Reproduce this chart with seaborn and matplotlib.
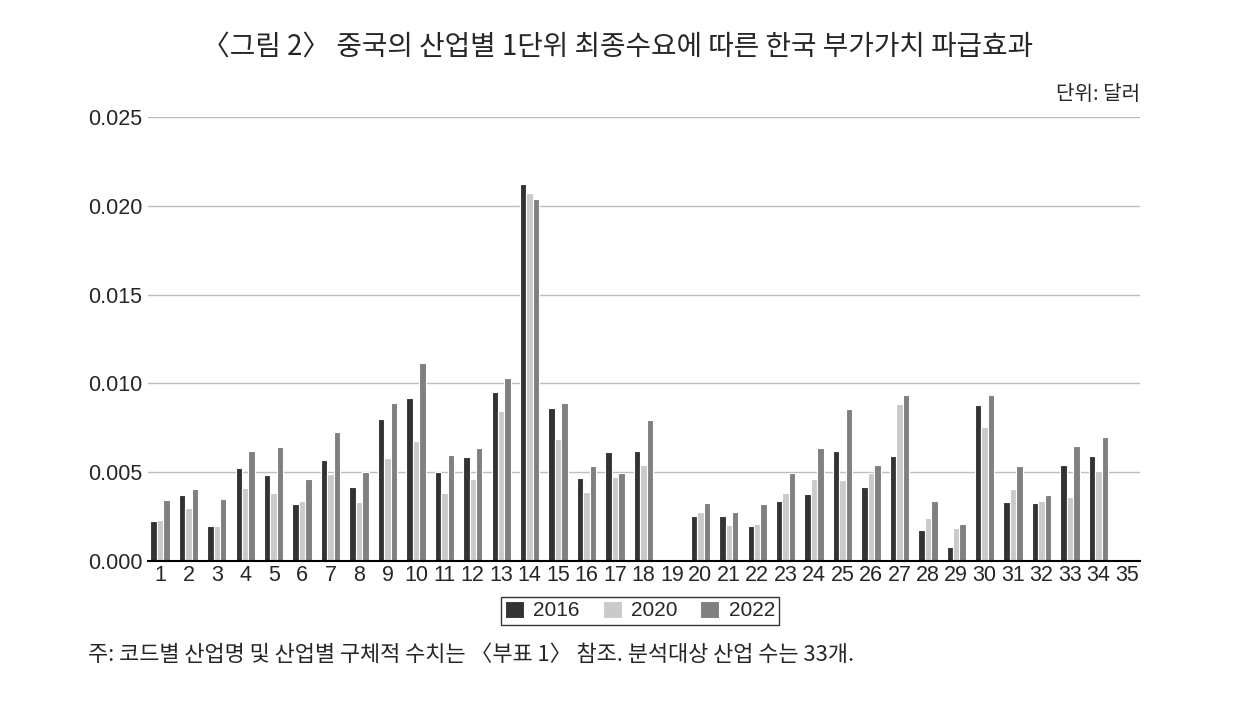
import matplotlib
matplotlib.use("Agg")
import matplotlib.pyplot as plt
import seaborn as sns
import numpy as np
import pandas as pd

categories = [str(i) for i in range(1, 36)]
years = ["2016", "2020", "2022"]
v2016 = [0.00228, 0.00370, 0.00196, 0.00525, 0.00485, 0.00321, 0.00568, 0.00417, 0.00802, 0.00915,
         0.00502, 0.00585, 0.00953, 0.02124, 0.00861, 0.00470, 0.00611, 0.00617, np.nan, 0.00253,
         0.00255, 0.00196, 0.00336, 0.00375, 0.00619, 0.00417, 0.00592, 0.00174, 0.00077, 0.00879,
         0.00334, 0.00328, 0.00542, 0.00592, np.nan]
v2020 = [0.00230, 0.00298, 0.00196, 0.00413, 0.00385, 0.00338, 0.00492, 0.00334, 0.00579, 0.00677,
         0.00385, 0.00462, 0.00846, 0.02070, 0.00686, 0.00389, 0.00474, 0.00541, np.nan, 0.00277,
         0.00202, 0.00208, 0.00381, 0.00462, 0.00457, 0.00498, 0.00885, 0.00242, 0.00185, 0.00753,
         0.00408, 0.00338, 0.00362, 0.00508, np.nan]
v2022 = [0.00343, 0.00406, 0.00347, 0.00619, 0.00643, 0.00462, 0.00725, 0.00502, 0.00887, 0.01115,
         0.00596, 0.00638, 0.01030, 0.02038, 0.00891, 0.00536, 0.00494, 0.00793, np.nan, 0.00326,
         0.00275, 0.00319, 0.00498, 0.00638, 0.00858, 0.00542, 0.00934, 0.00336, 0.00211, 0.00932,
         0.00534, 0.00370, 0.00649, 0.00698, np.nan]
colors = ["#333333", "#cacaca", "#808080"]

df = pd.DataFrame({
    "code": categories * 3,
    "year": sum([[y] * len(categories) for y in years], []),
    "value": v2016 + v2020 + v2022,
})

sns.set_style("white")
kr = ["Noto Sans CJK KR", "DejaVu Sans"]
num = ["Liberation Sans", "DejaVu Sans"]
plt.rcParams["font.family"] = kr

fig = plt.figure(figsize=(12.36, 7.05), dpi=100)
ax = fig.add_axes([148 / 1236, 1 - 561 / 705, (1140 - 148) / 1236, (561 - 117) / 705])

sns.barplot(data=df, x="code", y="value", hue="year", order=categories, hue_order=years,
            palette=colors, width=0.68, edgecolor="white", linewidth=0.8, ax=ax, legend=True)

ax.set_ylim(0, 0.025)
ax.set_xlim(-0.42, 34.46)
ax.set_yticks([0, 0.005, 0.010, 0.015, 0.020, 0.025])
ax.set_yticklabels(["0.000", "0.005", "0.010", "0.015", "0.020", "0.025"], fontfamily=num, fontsize=15.5)
ax.set_xticks(range(len(categories)))
ax.set_xticklabels(categories, fontfamily=num, fontsize=15.5)
ax.yaxis.grid(True, color="#bdbdbd", linewidth=1)
ax.set_axisbelow(True)
ax.tick_params(axis="y", length=0, pad=4)
ax.tick_params(axis="x", length=0, pad=3)
for s in ["left", "right", "top"]:
    ax.spines[s].set_visible(False)
ax.spines["bottom"].set_color("black")
ax.spines["bottom"].set_linewidth(1.5)
ax.set_xlabel("")
ax.set_ylabel("")

leg = ax.legend(loc="center", bbox_to_anchor=(0.496, -0.112), ncol=3, frameon=True,
                fancybox=False, edgecolor="black", handlelength=0.9, handleheight=0.85,
                columnspacing=1.1, handletextpad=0.45, borderpad=0.2, borderaxespad=0,
                prop={"family": num, "size": 15})
leg.get_frame().set_linewidth(1.0)

fig.text(618 / 1236, 1 - 47 / 705, "〈그림 2〉 중국의 산업별 1단위 최종수요에 따른 한국 부가가치 파급효과",
         ha="center", va="center", fontsize=20, family=kr)
fig.text(1140 / 1236, 1 - 95 / 705, "단위: 달러", ha="right", va="center", fontsize=14.5, family=kr)
fig.text(88 / 1236, 1 - 655 / 705, "주: 코드별 산업명 및 산업별 구체적 수치는 〈부표 1〉 참조. 분석대상 산업 수는 33개.",
         ha="left", va="center", fontsize=15.8, family=kr)

fig.savefig("out.png", dpi=100)
